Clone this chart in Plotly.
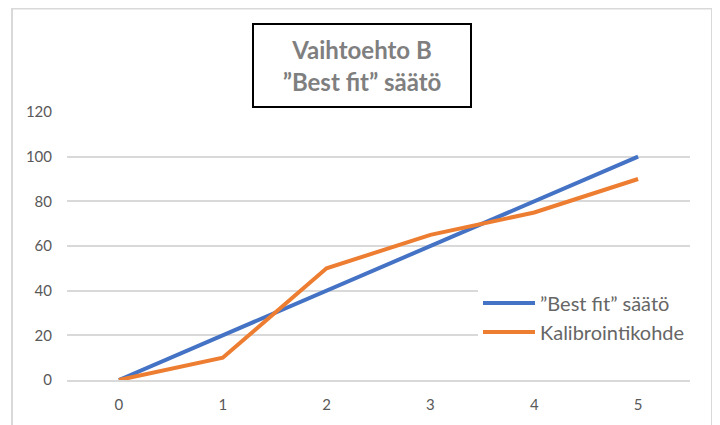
import plotly.graph_objects as go

x_vals = [0, 1, 2, 3, 4, 5]
best_fit = [0, 20, 40, 60, 80, 100]
kalibrointi = [0, 10, 50, 65, 75, 90]
y_ticks = [0, 20, 40, 60, 80, 100, 120]
series_names = ["”Best fit” säätö", "Kalibrointikohde"]
title_text = "Vaihtoehto B<br>”Best fit” säätö"

OFF = 8  # page body margin
W, H = 720 - OFF, 425 - OFF
# plot area in page pixels: x 67..690, y 112..384
L = 67 - OFF
R = W - (690 - OFF)
T = 112 - OFF
B = H - (384 - OFF)
pw, ph = W - L - R, H - T - B

def px(xp):
    return (xp - OFF - L) / pw

def py(yp):
    return (H - B - (yp - OFF)) / ph

FONT = "Lato, Carlito, Calibri, sans-serif"

fig = go.Figure()
fig.add_trace(go.Scatter(x=x_vals, y=best_fit, mode="lines", name=series_names[0],
                         line=dict(color="#4472C4", width=4)))
fig.add_trace(go.Scatter(x=x_vals, y=kalibrointi, mode="lines", name=series_names[1],
                         line=dict(color="#ED7D31", width=4)))

fig.update_layout(
    width=W, height=H,
    margin=dict(l=L, r=R, t=T, b=B),
    paper_bgcolor="white", plot_bgcolor="white",
    font=dict(family=FONT, color="#595959"),
    showlegend=True,
    legend=dict(x=px(478), y=py(286), xanchor="left", yanchor="top",
                bgcolor="white", font=dict(size=20, color="#666666", family=FONT),
                itemwidth=52),
    xaxis=dict(range=[-0.5, 5.5], tickmode="array", tickvals=x_vals,
               ticktext=[str(v) for v in x_vals], showgrid=False, zeroline=False,
               showline=True, linecolor="#d9d9d9", linewidth=1.5,
               tickfont=dict(size=15, color="#595959"), ticks="", ticklabelstandoff=10),
    yaxis=dict(range=[0, 120], tickmode="array", tickvals=y_ticks,
               ticktext=[str(v) for v in y_ticks], showgrid=True, gridcolor="#d9d9d9",
               gridwidth=1.5, zeroline=False, showline=False,
               tickfont=dict(size=15, color="#595959"), ticks="", ticklabelstandoff=14),
    annotations=[dict(text=title_text, x=px(362), y=py(64.5), xref="paper", yref="paper",
                      xanchor="center", yanchor="middle", showarrow=False,
                      font=dict(size=24, color="#7f7f7f", family=FONT, weight="bold"),
                      bordercolor="#000000", borderwidth=2, borderpad=1,
                      bgcolor="white", width=214, height=79, align="center")],
    shapes=[dict(type="path", xref="paper", yref="paper",
                 path=f"M {px(12)} {py(440)} L {px(12)} {py(7)} L {px(712)} {py(7)} L {px(712)} {py(440)}",
                 line=dict(color="#d9d9d9", width=2), layer="below")],
)

fig.write_html("out.html")
